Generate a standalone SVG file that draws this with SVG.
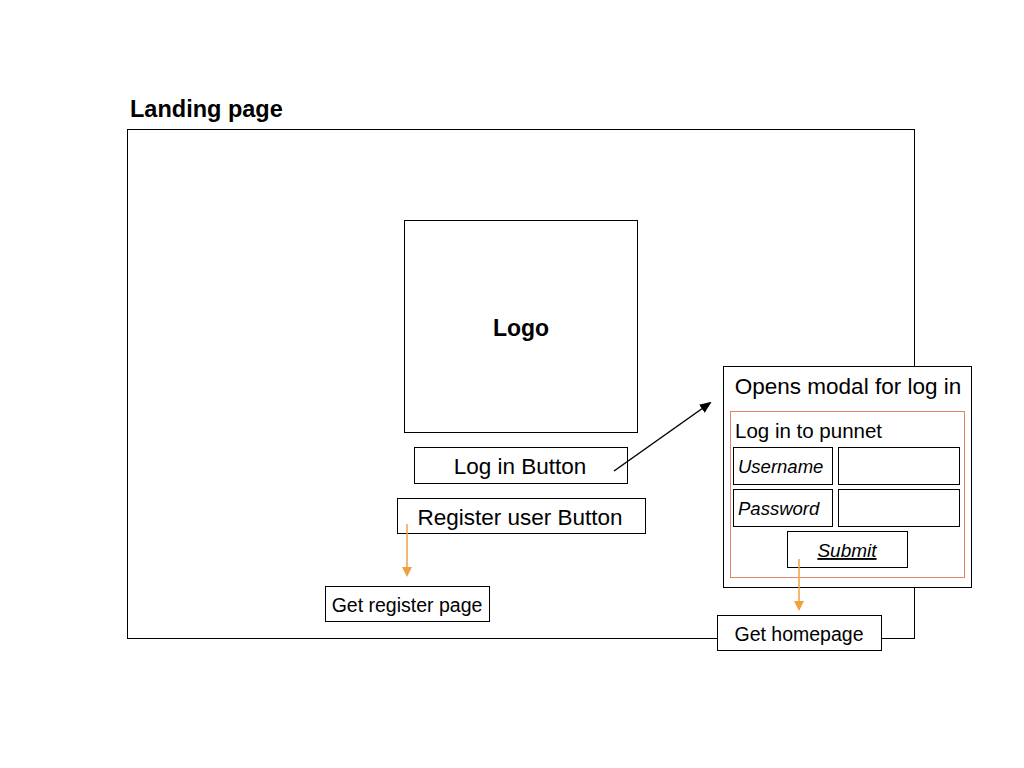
<svg xmlns="http://www.w3.org/2000/svg" width="1024" height="768" viewBox="0 0 1024 768">
<defs>
<style>
.box{fill:#fff;stroke:#000;stroke-width:1}
.t{font-family:"Liberation Sans",Arial,sans-serif;fill:#000}
.or{stroke:#f0a040;stroke-width:1.5;fill:none}
</style>
<marker id="ao" markerWidth="10" markerHeight="10" refX="8" refY="5" orient="auto" markerUnits="userSpaceOnUse" viewBox="0 0 10 10">
<path d="M0,0 L10,5 L0,10 Z" fill="#f0a040"/>
</marker>
<marker id="ab" markerWidth="12" markerHeight="12" refX="10" refY="5" orient="auto" markerUnits="userSpaceOnUse" viewBox="0 0 12 10">
<path d="M0,0 L12,5 L0,10 Z" fill="#000"/>
</marker>
</defs>
<rect width="1024" height="768" fill="#fff"/>
<g id="landing">
<text class="t" x="130" y="117" font-size="23.5" font-weight="bold">Landing page</text>
<rect class="box" x="127.5" y="129.5" width="787" height="509"/>
</g>
<g id="logo">
<rect class="box" x="404.5" y="220.5" width="233" height="212"/>
<text class="t" x="521" y="336" font-size="23" font-weight="bold" text-anchor="middle">Logo</text>
</g>
<g id="login-btn">
<rect class="box" x="414.5" y="447.5" width="213" height="36"/>
<text class="t" x="520" y="474" font-size="22.5" text-anchor="middle">Log in Button</text>
</g>
<g id="register-btn">
<rect class="box" x="397.5" y="498.5" width="248" height="35"/>
<text class="t" x="520" y="525" font-size="22.5" text-anchor="middle">Register user Button</text>
</g>
<g id="get-register">
<rect class="box" x="325.5" y="586.5" width="164" height="35"/>
<text class="t" x="407" y="612" font-size="19.5" text-anchor="middle">Get register page</text>
</g>
<g id="modal">
<rect class="box" x="723.5" y="366.5" width="248" height="221"/>
<text class="t" x="848" y="394" font-size="22.5" text-anchor="middle">Opens modal for log in</text>
<rect x="730.5" y="411.5" width="234" height="166" fill="none" stroke="#e8806e" stroke-width="1"/>
<text class="t" x="735" y="438" font-size="20.5">Log in to punnet</text>
</g>
<g id="username">
<rect class="box" x="733.5" y="447.5" width="99" height="37"/>
<text class="t" x="738" y="473" font-size="18.5" font-style="italic">Username</text>
<rect class="box" x="838.5" y="447.5" width="121" height="37"/>
</g>
<g id="password">
<rect class="box" x="733.5" y="489.5" width="99" height="37"/>
<text class="t" x="738" y="515" font-size="18.5" font-style="italic">Password</text>
<rect class="box" x="838.5" y="489.5" width="121" height="37"/>
</g>
<g id="submit">
<rect class="box" x="787.5" y="531.5" width="120" height="36"/>
<text class="t" x="847" y="557" font-size="19" font-style="italic" text-anchor="middle" text-decoration="underline">Submit</text>
</g>
<g id="get-homepage">
<rect class="box" x="717.5" y="615.5" width="164" height="35"/>
<text class="t" x="799" y="641" font-size="19.5" text-anchor="middle">Get homepage</text>
</g>
<g id="connectors">
<line x1="614" y1="471" x2="710" y2="403" stroke="#000" stroke-width="1.5" marker-end="url(#ab)"/>
<line class="or" x1="407" y1="524" x2="407" y2="575" marker-end="url(#ao)"/>
<line class="or" x1="799" y1="559" x2="799" y2="609" marker-end="url(#ao)"/>
</g>
</svg>
